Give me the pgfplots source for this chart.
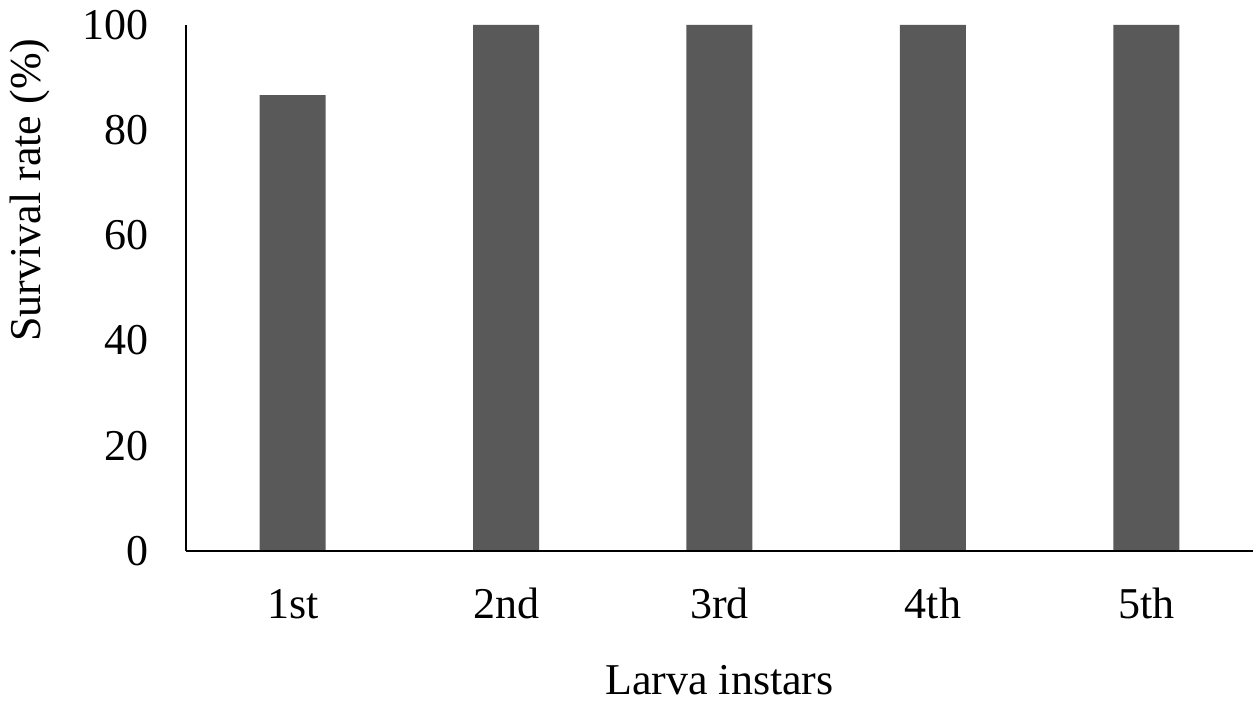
\documentclass[border=0pt]{standalone}
\usepackage{fontspec}
\setmainfont{Liberation Serif}
\usepackage{pgfplots}
\pgfplotsset{compat=1.18}
\definecolor{barc}{RGB}{89,89,89}
\begin{document}
\begin{tikzpicture}
\useasboundingbox (-93pt,-75.1pt) rectangle (533.5pt,275.4pt);
\begin{axis}[
  scale only axis, width=533.5pt, height=262.9pt,
  at={(0,0)}, anchor=south west,
  axis x line*=bottom, axis y line*=left,
  axis line style={-, line width=0.75pt, black},
  axis on top,
  xmin=-0.5, xmax=4.5, ymin=0, ymax=100,
  xtick={0,1,2,3,4}, xticklabels={1st,2nd,3rd,4th,5th},
  ytick={0,20,40,60,80,100},
  major tick length=0pt,
  /pgf/number format/assume math mode=true,
  tick label style={font=\fontsize{22}{26}\selectfont},
  label style={font=\fontsize{22}{26}\selectfont},
  xticklabel style={anchor=center, inner sep=0pt, yshift=-26.5pt},
  yticklabel style={anchor=east, inner sep=0pt, xshift=-18.5pt},
  xlabel={Larva instars},
  ylabel={Survival rate (\%)},
  xlabel style={at={(axis description cs:0.5,-0.246)}, anchor=center, inner sep=0pt},
  ylabel style={at={(axis description cs:-0.146,0.686)}, anchor=center, inner sep=0pt},
]
\addplot[ybar, bar width=33pt, fill=barc, draw=none] coordinates {(0,86.67) (1,100) (2,100) (3,100) (4,100)};
\end{axis}
\end{tikzpicture}
\end{document}
